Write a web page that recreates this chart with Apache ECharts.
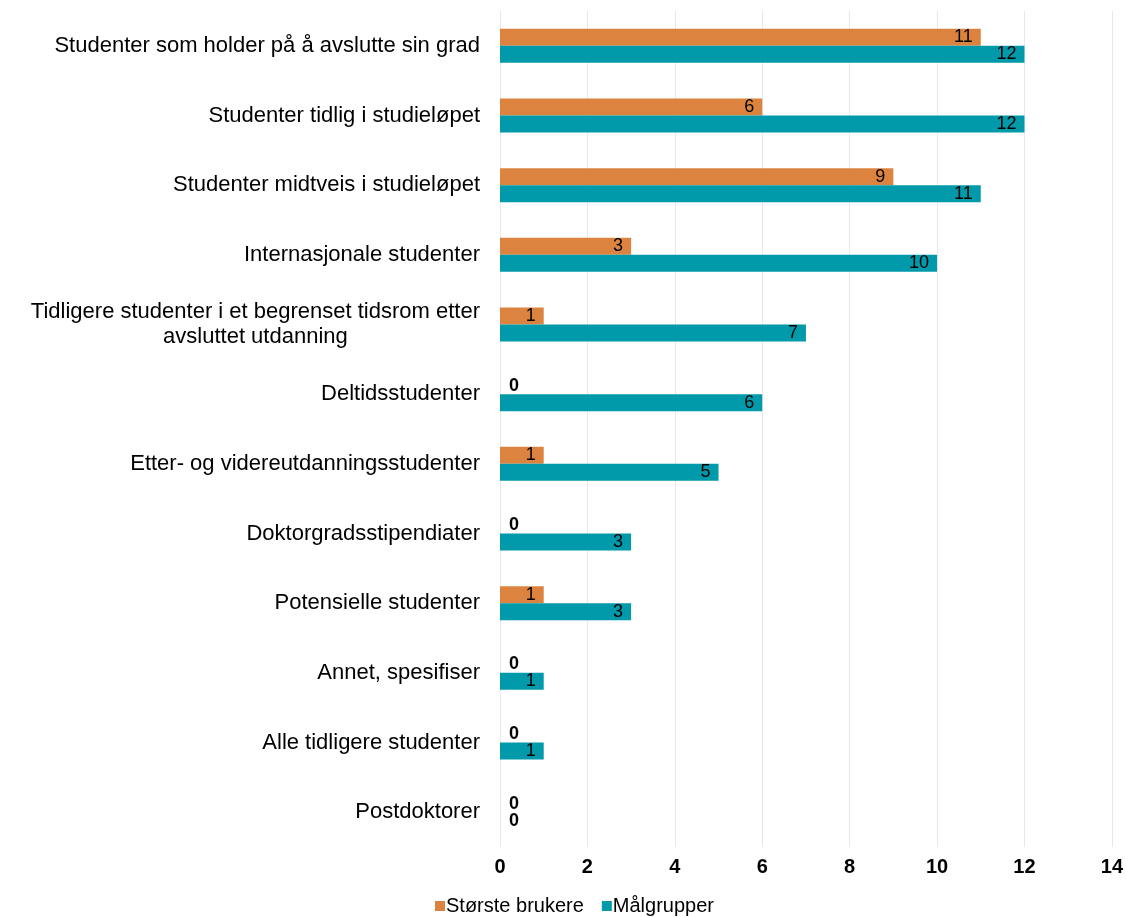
<!DOCTYPE html>
<html><head><meta charset="utf-8">
<script src="https://cdn.jsdelivr.net/npm/echarts@6/dist/echarts.min.js"></script>
<style>html,body{margin:0;padding:0;background:#fff}#c{width:1126px;height:917px}</style>
</head><body><div id="c"></div>
<script>
const categories = [
  "Studenter som holder på å avslutte sin grad",
  "Studenter tidlig i studieløpet",
  "Studenter midtveis i studieløpet",
  "Internasjonale studenter",
  "Tidligere studenter i et begrenset tidsrom etter\navsluttet utdanning",
  "Deltidsstudenter",
  "Etter- og videreutdanningsstudenter",
  "Doktorgradsstipendiater",
  "Potensielle studenter",
  "Annet, spesifiser",
  "Alle tidligere studenter",
  "Postdoktorer"
];
const storsteBrukere = [11, 6, 9, 3, 1, 0, 1, 0, 1, 0, 0, 0];
const malgrupper = [12, 12, 11, 10, 7, 6, 5, 3, 3, 1, 1, 0];
const xTicks = [0, 2, 4, 6, 8, 10, 12, 14];

function toData(arr) {
  return arr.map(v => v === 0 ? {
    value: v,
    label: { position: 'right', distance: 9, fontWeight: 'bold' }
  } : { value: v });
}

const chart = echarts.init(document.getElementById('c'));
chart.setOption({
  animation: false,
  textStyle: { fontFamily: 'Liberation Sans, Arial, sans-serif' },
  grid: { left: 500, right: 14, top: 11, bottom: 70, containLabel: false },
  legend: {
    bottom: -4, left: 430, itemWidth: 10, itemHeight: 10, itemGap: 18,
    icon: 'rect',
    textStyle: { fontSize: 20, color: '#000', padding: [0, 0, 0, -4] },
    data: ['Største brukere', 'Målgrupper']
  },
  xAxis: {
    type: 'value', min: xTicks[0], max: xTicks[xTicks.length - 1], interval: 2,
    axisLine: { show: false }, axisTick: { show: false },
    splitLine: { show: true, lineStyle: { color: '#e8e8e8', width: 1 } },
    axisLabel: { fontSize: 20, fontWeight: 'bold', color: '#000', margin: 10 }
  },
  yAxis: {
    type: 'category', inverse: true, data: categories,
    axisLine: { show: false }, axisTick: { show: false },
    axisLabel: {
      fontSize: 22, color: '#000', margin: 20, lineHeight: 25,
      formatter: function (v) {
        return v.split('\n').map(s => '{c|' + s + '}').join('\n');
      },
      rich: { c: { fontSize: 22, color: '#000', align: 'center', lineHeight: 25 } }
    }
  },
  series: [
    {
      name: 'Største brukere', type: 'bar', data: toData(storsteBrukere),
      barWidth: 17, barGap: '0%',
      itemStyle: { color: '#DC843F' },
      label: { show: true, position: 'insideRight', distance: 8, fontSize: 18, color: '#000' }
    },
    {
      name: 'Målgrupper', type: 'bar', data: toData(malgrupper),
      barWidth: 17, barGap: '0%',
      itemStyle: { color: '#009AAA' },
      label: { show: true, position: 'insideRight', distance: 8, fontSize: 18, color: '#000' }
    }
  ]
});
</script></body></html>
